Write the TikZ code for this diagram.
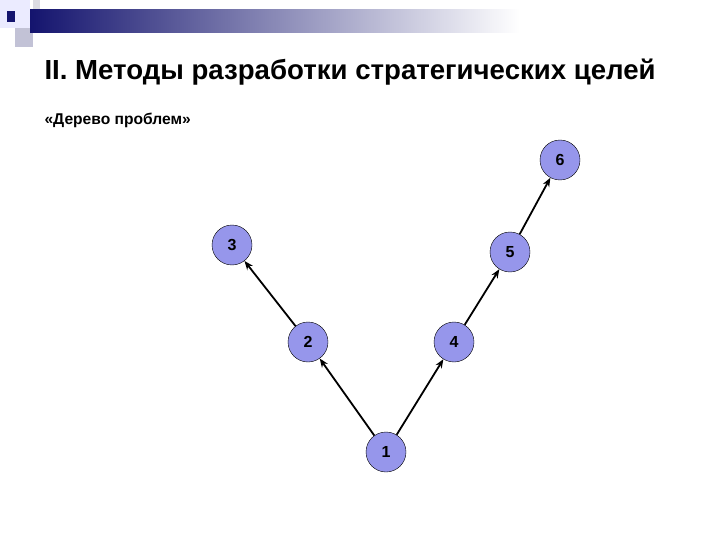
\documentclass[tikz,border=0pt]{standalone}
\usepackage{fontspec}
\setmainfont{Liberation Sans}
\usetikzlibrary{arrows.meta}
\definecolor{nodefill}{RGB}{150,150,235}
\definecolor{navy}{RGB}{20,20,110}
\begin{document}
\begin{tikzpicture}[x=1pt,y=-1pt,
  num/.style={circle,draw=black,fill=nodefill,minimum size=40pt,inner sep=0pt,font=\bfseries\fontsize{16}{16}\selectfont},
  arr/.style={-{Stealth[length=9pt,width=7pt]},line width=1.8pt}]
\useasboundingbox (0,0) rectangle (720,540);
% decoration
\fill[blue!8] (0,0) rectangle (30,28);
\fill[blue!20!gray!40] (15,28) rectangle (33,47);
\fill[blue!10!gray!25] (33,0) rectangle (40,10);
\shade[left color=navy,right color=white] (30,10) rectangle (520,33);
\fill[navy] (7,11) rectangle (15,22);
\node[anchor=west,font=\bfseries\fontsize{27.6}{27.6}\selectfont] (title) at (41,72) {II. Методы разработки стратегических целей};
\node[anchor=west,font=\bfseries\fontsize{15.6}{15.6}\selectfont] (sub) at (41,120) {«Дерево проблем»};
\node[num] (n1) at (386,452) {1};
\node[num] (n2) at (308,342) {2};
\node[num] (n3) at (232,245) {3};
\node[num] (n4) at (454,342) {4};
\node[num] (n5) at (510,252) {5};
\node[num] (n6) at (560,160) {6};
\draw[arr] (n1) -- (n2);
\draw[arr] (n2) -- (n3);
\draw[arr] (n1) -- (n4);
\draw[arr] (n4) -- (n5);
\draw[arr] (n5) -- (n6);
\end{tikzpicture}
\end{document}
